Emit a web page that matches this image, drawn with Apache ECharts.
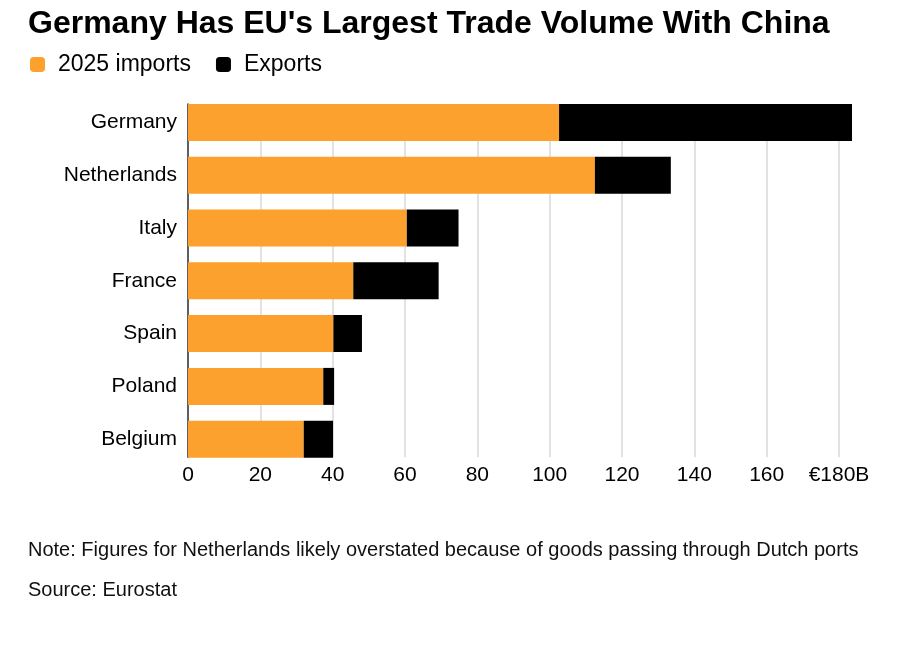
<!DOCTYPE html>
<html>
<head>
<meta charset="utf-8">
<script src="https://cdn.jsdelivr.net/npm/echarts@6/dist/echarts.min.js"></script>
<style>
  html, body { margin: 0; padding: 0; background: #fff; }
  #chart { width: 912px; height: 648px; }
</style>
</head>
<body>
<div id="chart"></div>
<script>
// EU trade with China, € billions
const countries = ['Germany', 'Netherlands', 'Italy', 'France', 'Spain', 'Poland', 'Belgium'];
const imports2025 = [102.6, 112.5, 60.5, 45.7, 40.2, 37.4, 32.0];
const exports2025 = [81.0, 21.0, 14.3, 23.6, 7.9, 3.0, 8.1];
const xTicks = [0, 20, 40, 60, 80, 100, 120, 140, 160, 180];

const FONT = 'Liberation Sans';
const ORANGE = '#FCA12E';

const chart = echarts.init(document.getElementById('chart'));

chart.setOption({
  backgroundColor: '#fff',
  animation: false,
  textStyle: { fontFamily: FONT, color: '#000' },
  title: {
    text: "Germany Has EU's Largest Trade Volume With China",
    left: 28, top: 8, padding: 0,
    textStyle: { fontFamily: FONT, fontSize: 32, fontWeight: 'bold', color: '#000' }
  },
  legend: {
    left: 30, top: 53, padding: 0,
    icon: 'roundRect', itemWidth: 15, itemHeight: 15, itemGap: 25,
    textStyle: { fontFamily: FONT, fontSize: 23, color: '#000', padding: [0, 0, 0, 8] },
    data: ['2025 imports', 'Exports']
  },
  grid: [
    // bars
    { left: 188, right: 73, top: 96, height: 369.6 },
    // gridlines and axis, trimmed to the bar extent
    { left: 188, right: 73, top: 104, bottom: 190.7 }
  ],
  xAxis: [
    {
      gridIndex: 0, type: 'value', min: 0, max: 180, interval: 20,
      axisLine: { show: false }, axisTick: { show: false },
      axisLabel: { show: false }, splitLine: { show: false }
    },
    {
      gridIndex: 1, type: 'value', min: xTicks[0], max: xTicks[xTicks.length - 1], interval: 20,
      axisLine: { show: false }, axisTick: { show: false },
      axisLabel: {
        margin: 7, fontSize: 21, color: '#000', fontFamily: FONT,
        formatter: v => (v === 180 ? '€' + v + 'B' : String(v))
      },
      splitLine: { show: true, lineStyle: { color: '#d9d9d9', width: 1.5 } }
    }
  ],
  yAxis: [
    {
      gridIndex: 0, type: 'category', data: countries, inverse: true,
      axisLine: { show: false }, axisTick: { show: false },
      axisLabel: { margin: 11, fontSize: 21, color: '#000', fontFamily: FONT }
    },
    {
      gridIndex: 1, type: 'category', data: countries, inverse: true,
      axisLine: { show: true, lineStyle: { color: '#333', width: 1.5 } },
      axisTick: { show: false }, axisLabel: { show: false }
    }
  ],
  series: [
    {
      name: '2025 imports', type: 'bar', stack: 'total',
      xAxisIndex: 0, yAxisIndex: 0, barWidth: 37, clip: false,
      itemStyle: { color: ORANGE }, data: imports2025
    },
    {
      name: 'Exports', type: 'bar', stack: 'total',
      xAxisIndex: 0, yAxisIndex: 0, barWidth: 37, clip: false,
      itemStyle: { color: '#000' }, data: exports2025
    }
  ],
  graphic: [
    {
      type: 'text', left: 28, top: 540,
      style: {
        text: 'Note: Figures for Netherlands likely overstated because of goods passing through Dutch ports',
        font: '20px "Liberation Sans"', fill: '#111'
      }
    },
    {
      type: 'text', left: 28, top: 580,
      style: { text: 'Source: Eurostat', font: '20px "Liberation Sans"', fill: '#111' }
    }
  ]
});
</script>
</body>
</html>
